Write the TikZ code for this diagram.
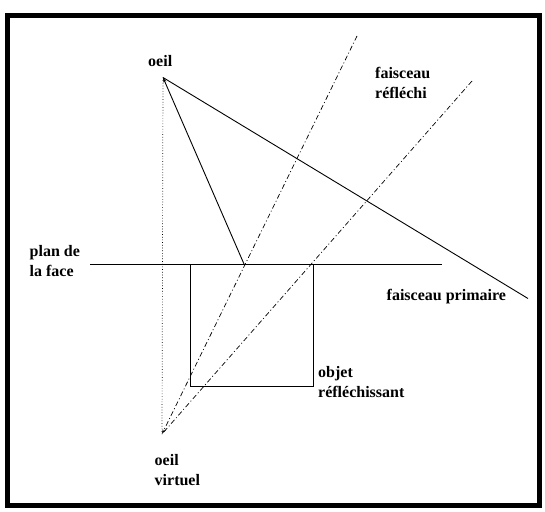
\documentclass[tikz,border=0pt]{standalone}
\usepackage{fontspec}
\setmainfont{Liberation Serif}
\usetikzlibrary{arrows.meta}

\begin{document}
\begin{tikzpicture}[
    x = 1pt, y = -1pt,
    every node/.style = {font=\bfseries\fontsize{16}{20}\selectfont, inner sep=0pt},
    label/.style = {anchor=base west, align=left},
    ray/.style = {line width=0.9pt},
    dashray/.style = {line width=0.7pt, dash pattern=on 5pt off 2.5pt on 1pt off 2.5pt},
    axis/.style = {line width=0.7pt, dotted},
    tip/.style = {-{Stealth[length=5pt,width=3pt]}}
]

\useasboundingbox (0,0) rectangle (545,511);
\draw[line width=5pt] (7.5,15.5) rectangle (539.5,505.5);

% points
\coordinate (eye) at (163,77.5);
\coordinate (veye) at (162,434);
\coordinate (hit) at (244,264);
\coordinate (far) at (528,298.5);
\coordinate (top1) at (357,36);
\coordinate (top2) at (472,81);
\coordinate (planeL) at (90,264);
\coordinate (planeR) at (442,264);

% plane and object
\draw[ray] (planeL) -- (planeR);
\draw[ray] (190.5,264) rectangle (313,386.5);

% rays
\draw[ray] (far) -- (eye);
\draw[ray, tip] (hit) -- (eye);
\draw[axis] (eye) -- (veye);
\draw[dashray, tip] (top1) -- (veye);
\draw[dashray] (top2) -- (veye);

% labels (base = last line)
\node[label] (oeil) at (148,66.5) {oeil};
\node[label] (refl) at (375,98.5) {faisceau\\réfléchi};
\node[label] (plan) at (29.5,276.5) {plan de\\la face};
\node[label] (prim) at (386.5,300) {faisceau primaire};
\node[label] (objet) at (318,397) {objet\\réfléchissant};
\node[label] (virt) at (154.5,485) {oeil\\virtuel};

\end{tikzpicture}
\end{document}
